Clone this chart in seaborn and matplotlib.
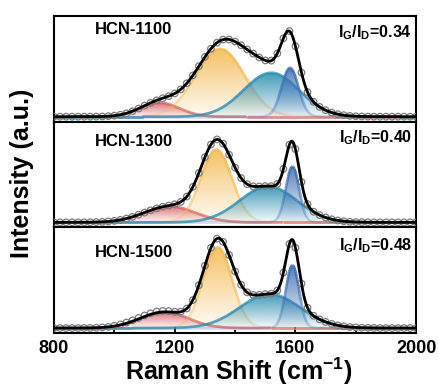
import numpy as np
import seaborn as sns
import matplotlib.pyplot as plt
from matplotlib.path import Path
from matplotlib.patches import PathPatch
from matplotlib.collections import LineCollection
from matplotlib.colors import to_rgb

sns.set_style("ticks")
plt.rcParams['font.family'] = ['Liberation Sans', 'DejaVu Sans']
plt.rcParams['font.weight'] = 'bold'
plt.rcParams['text.color'] = 'black'
plt.rcParams['axes.edgecolor'] = 'black'
plt.rcParams['xtick.color'] = 'black'
plt.rcParams['mathtext.fontset'] = 'custom'
plt.rcParams['mathtext.rm'] = 'Liberation Sans:bold'
plt.rcParams['mathtext.bf'] = 'Liberation Sans:bold'
plt.rcParams['mathtext.it'] = 'Liberation Sans:bold'

samples = ['HCN-1100', 'HCN-1300', 'HCN-1500']
ratios = ['0.34', '0.40', '0.48']

# fitted bands per sample: (amplitude, centre cm-1, sigma cm-1)
red_band = [(0.14, 1150, 65), (0.16, 1184, 85), (0.16, 1165, 80)]
orange_band = [(0.68, 1350, 82), (0.73, 1338, 52), (0.81, 1342, 48)]
teal_band = [(0.44, 1520, 92), (0.36, 1510, 95), (0.34, 1515, 100)]
blue_band = [(0.49, 1582, 28), (0.56, 1590, 22), (0.63, 1590, 22)]

band_colors = ['#d9646a', '#f5b94f', '#2b8db0', '#3d6fb5']

# measured spectra (open circles), 800-2000 cm-1 every 20 cm-1
shift = np.arange(800, 2001, 20)
spec_1100 = [0.0, 0.0, 0.0, 0.0, 0.0, 0.0, 0.0, 0.001, 0.002, 0.005, 0.01, 0.019, 0.034,
             0.055, 0.081, 0.111, 0.139, 0.164, 0.185, 0.206, 0.233, 0.274, 0.335, 0.414,
             0.506, 0.6, 0.682, 0.742, 0.773, 0.774, 0.753, 0.716, 0.674, 0.632, 0.594,
             0.564, 0.562, 0.635, 0.786, 0.858, 0.707, 0.442, 0.247, 0.149, 0.098, 0.065,
             0.041, 0.025, 0.015, 0.008, 0.004, 0.002, 0.001, 0.0, 0.0, 0.0, 0.0, 0.0,
             0.0, 0.0, 0.0]
spec_1300 = [0.0, 0.0, 0.0, 0.0, 0.0, 0.001, 0.001, 0.003, 0.005, 0.009, 0.015, 0.025,
             0.038, 0.055, 0.076, 0.098, 0.121, 0.141, 0.156, 0.168, 0.181, 0.205, 0.259,
             0.356, 0.496, 0.653, 0.781, 0.832, 0.79, 0.679, 0.549, 0.444, 0.383, 0.361,
             0.36, 0.364, 0.363, 0.385, 0.535, 0.779, 0.735, 0.405, 0.183, 0.107, 0.073,
             0.049, 0.031, 0.019, 0.011, 0.006, 0.003, 0.002, 0.001, 0.0, 0.0, 0.0, 0.0,
             0.0, 0.0, 0.0, 0.0]
spec_1500 = [0.0, 0.0, 0.0, 0.0, 0.0, 0.001, 0.001, 0.003, 0.006, 0.011, 0.022, 0.036,
             0.055, 0.077, 0.101, 0.126, 0.148, 0.165, 0.172, 0.17, 0.163, 0.165, 0.196,
             0.28, 0.43, 0.625, 0.805, 0.897, 0.865, 0.733, 0.568, 0.434, 0.358, 0.332,
             0.333, 0.34, 0.344, 0.377, 0.556, 0.843, 0.805, 0.445, 0.203, 0.123, 0.087,
             0.061, 0.042, 0.027, 0.017, 0.01, 0.006, 0.003, 0.002, 0.001, 0.0, 0.0, 0.0,
             0.0, 0.0, 0.0, 0.0]
spectra = [spec_1100, spec_1300, spec_1500]

x = np.linspace(800, 2000, 601)


def band(p, xx):
    a, c, s = p
    return a * np.exp(-0.5 * ((xx - c) / s) ** 2)


def grad_fill(ax, xx, yy, color, z):
    verts = np.column_stack([np.r_[xx, xx[::-1]], np.r_[yy, np.zeros_like(yy)]])
    patch = PathPatch(Path(verts), facecolor='none', edgecolor='none')
    ax.add_patch(patch)
    img = np.zeros((256, 1, 4))
    img[:, :, :3] = to_rgb(color)
    img[:, 0, 3] = np.linspace(0.05, 0.88, 256)
    im = ax.imshow(img, extent=[xx.min(), xx.max(), 0, yy.max()], origin='lower',
                   aspect='auto', zorder=z, interpolation='bilinear')
    im.set_clip_path(patch)


def grad_line(ax, xx, yy, color, amin, z):
    pts = np.column_stack([xx, yy]).reshape(-1, 1, 2)
    segs = np.concatenate([pts[:-1], pts[1:]], axis=1)
    al = amin + (1 - amin) * (yy[:-1] / yy.max())
    cols = [(*to_rgb(color), a) for a in al]
    ax.add_collection(LineCollection(segs, colors=cols, linewidths=1.9, zorder=z))


fig = plt.figure(figsize=(4.39, 3.87), dpi=100)
left, right, bottom, top = 0.123, 0.948, 0.1395, 0.9587
h = (top - bottom) / 3
ypos_name = [0.868, 0.81, 0.764]
ypos_ratio = [0.84, 0.85, 0.83]
for i in range(3):
    ax = fig.add_axes([left, top - (i + 1) * h, right - left, h])
    bands = [red_band[i], orange_band[i], teal_band[i], blue_band[i]]
    total = np.zeros_like(x)
    for k, (p, col) in enumerate(zip(bands, band_colors)):
        yy = band(p, x)
        total += yy
        grad_fill(ax, x, yy, col, 2 + k)
        grad_line(ax, x, yy, col, 1.0 if k in (0, 2) else 0.25, 2.5 + k)
    sns.scatterplot(x=shift, y=spectra[i], ax=ax, s=22, facecolor='none',
                    edgecolor='#7a7a7a', linewidth=0.9, zorder=7)
    sns.lineplot(x=x, y=total, ax=ax, color='black', lw=2.0, zorder=8)
    ax.set_xlim(800, 2000)
    ax.set_ylim(-0.05, 1.01)
    ax.set_yticks([])
    for s in ax.spines.values():
        s.set_linewidth(1.5)
    ax.text(0.113, ypos_name[i], samples[i], transform=ax.transAxes, fontsize=12,
            fontweight='bold', ha='left', va='center')
    ax.text(0.989, ypos_ratio[i], r'I$_G$/I$_D$=' + ratios[i], transform=ax.transAxes,
            fontsize=11.5, ha='right', va='center')
    ax.set_xticks([800, 1200, 1600, 2000])
    ax.set_xticks([1000, 1400, 1800], minor=True)
    ax.tick_params(axis='x', which='both', direction='in', width=1.3, labelsize=13, pad=5)
    ax.tick_params(axis='x', which='major', length=4)
    ax.tick_params(axis='x', which='minor', length=2.5)
    if i < 2:
        ax.tick_params(axis='x', which='both', labelbottom=False, length=0)
    else:
        for t in ax.get_xticklabels():
            t.set_fontweight('bold')

fig.text(0.543, 0.041, r'Raman Shift (cm$^{-1}$)', fontsize=18, fontweight='bold',
         ha='center', va='center')
fig.text(0.05, 0.5517, 'Intensity (a.u.)', fontsize=18, fontweight='bold',
         ha='center', va='center', rotation=90)

fig.savefig('out.png', dpi=100)
